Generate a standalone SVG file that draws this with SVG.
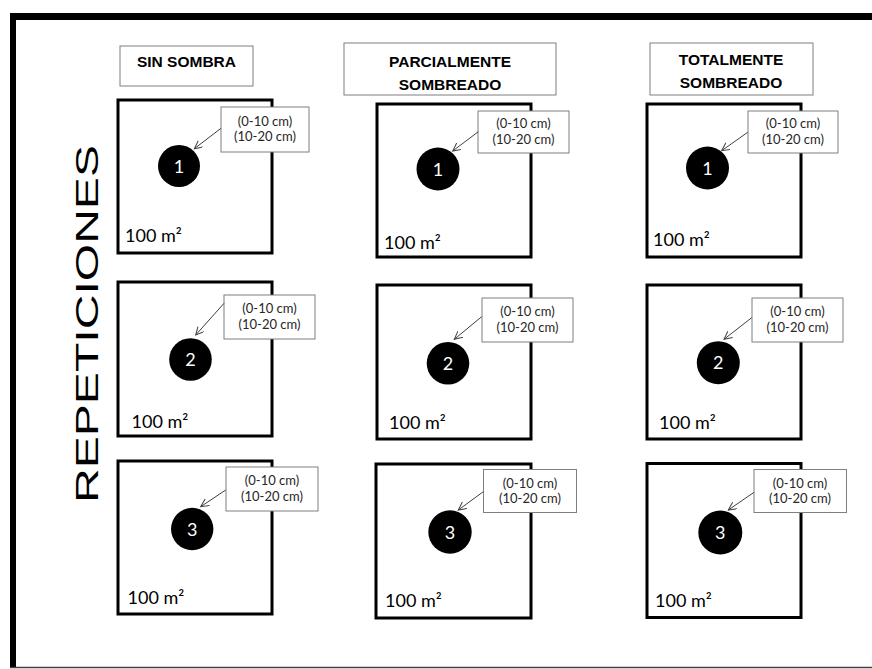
<svg xmlns="http://www.w3.org/2000/svg" width="872" height="669" viewBox="0 0 872 669">
<style>
.hdr{fill:#fff;stroke:#7f7f7f;stroke-width:1}
.hdrt{font-family:"Liberation Sans",Arial,sans-serif;font-weight:bold;font-size:15.5px;fill:#000;text-anchor:middle}
.plot{fill:#fff;stroke:#000;stroke-width:3}
.call{fill:#fff;stroke:#7f7f7f;stroke-width:1}
.callt{font-family:Lato,"Open Sans",sans-serif;font-size:13px;fill:#262626;text-anchor:middle}
.area{font-family:Lato,"Open Sans",sans-serif;font-size:18px;fill:#000}
.pt{fill:#000}
.num{font-family:Lato,"Open Sans",sans-serif;font-size:18px;fill:#fff;text-anchor:middle}
.arr{stroke:#404040;stroke-width:1;fill:none;marker-end:url(#ah)}
</style>
<defs>
<marker id="ah" markerUnits="userSpaceOnUse" markerWidth="10" markerHeight="10" refX="8" refY="4" orient="auto">
<path d="M0,0 L8,4 L0,8" fill="none" stroke="#404040" stroke-width="1"/>
</marker>
</defs>
<rect x="0" y="0" width="872" height="669" fill="#fff"/>
<g id="frame">
<rect x="10" y="13" width="862" height="7" fill="#000"/>
<rect x="10" y="13" width="6" height="655" fill="#000"/>
<line x1="10" y1="667.5" x2="872" y2="667.5" stroke="#404040" stroke-width="1.5"/>
</g>
<g id="title">
<text transform="translate(98,503) rotate(-90)" font-family="Liberation Sans,Arial,sans-serif" font-size="32" textLength="358" lengthAdjust="spacingAndGlyphs" fill="#000">REPETICIONES</text>
</g>
<g id="hdr1"><rect class="hdr" x="120" y="46" width="133" height="40"/><text class="hdrt" x="186.5" y="67">SIN SOMBRA</text></g>
<g id="hdr2"><rect class="hdr" x="344" y="43" width="212" height="52"/><text class="hdrt" x="450" y="67">PARCIALMENTE</text><text class="hdrt" x="450" y="90">SOMBREADO</text></g>
<g id="hdr3"><rect class="hdr" x="650" y="43" width="163" height="52"/><text class="hdrt" x="731" y="65">TOTALMENTE</text><text class="hdrt" x="731" y="88">SOMBREADO</text></g>

<g id="p11"><rect class="plot" x="118" y="100" width="154" height="153"/><circle class="pt" cx="179" cy="166" r="21"/><text class="num" x="179" y="172.5">1</text><text class="area" x="125" y="242">100 m²</text><rect class="call" x="221" y="107" width="88" height="45"/><text class="callt" x="265" y="125.5">(0-10 cm)</text><text class="callt" x="265" y="140.5">(10-20 cm)</text></g>
<g id="p21"><rect class="plot" x="377" y="104" width="154" height="153"/><circle class="pt" cx="438" cy="169" r="21.5"/><text class="num" x="438" y="175.5">1</text><text class="area" x="384" y="249">100 m²</text><rect class="call" x="478" y="111" width="91" height="42"/><text class="callt" x="523.5" y="128">(0-10 cm)</text><text class="callt" x="523.5" y="143.5">(10-20 cm)</text></g>
<g id="p31"><rect class="plot" x="647" y="104" width="154" height="153"/><circle class="pt" cx="707.5" cy="168" r="21.5"/><text class="num" x="707.5" y="174.5">1</text><text class="area" x="653" y="246">100 m²</text><rect class="call" x="748" y="111" width="90" height="42"/><text class="callt" x="793" y="128">(0-10 cm)</text><text class="callt" x="793" y="143.5">(10-20 cm)</text></g>

<g id="p12"><rect class="plot" x="118" y="282" width="154" height="154"/><circle class="pt" cx="190.5" cy="359.5" r="21.3"/><text class="num" x="190.5" y="366">2</text><text class="area" x="131.5" y="428">100 m²</text><rect class="call" x="224" y="295" width="91" height="44"/><text class="callt" x="269.5" y="313">(0-10 cm)</text><text class="callt" x="269.5" y="328.5">(10-20 cm)</text></g>
<g id="p22"><rect class="plot" x="377" y="285" width="154" height="154"/><circle class="pt" cx="448" cy="363.3" r="21.3"/><text class="num" x="448" y="369.8">2</text><text class="area" x="389" y="428.5">100 m²</text><rect class="call" x="482" y="298" width="91" height="44"/><text class="callt" x="527.5" y="316">(0-10 cm)</text><text class="callt" x="527.5" y="331.5">(10-20 cm)</text></g>
<g id="p32"><rect class="plot" x="647" y="285" width="154" height="154"/><circle class="pt" cx="718.3" cy="362.7" r="21.5"/><text class="num" x="718.3" y="369.2">2</text><text class="area" x="659" y="428.5">100 m²</text><rect class="call" x="752" y="298" width="91" height="44"/><text class="callt" x="797.5" y="316">(0-10 cm)</text><text class="callt" x="797.5" y="331.5">(10-20 cm)</text></g>

<g id="p13"><rect class="plot" x="118" y="461" width="154" height="153"/><circle class="pt" cx="192.2" cy="529" r="21.2"/><text class="num" x="192.2" y="535.5">3</text><text class="area" x="127.5" y="603.5">100 m²</text><rect class="call" x="226" y="467" width="92" height="44"/><text class="callt" x="272" y="485">(0-10 cm)</text><text class="callt" x="272" y="500.5">(10-20 cm)</text></g>
<g id="p23"><rect class="plot" x="376" y="464" width="155" height="154"/><circle class="pt" cx="450" cy="532" r="21.7"/><text class="num" x="450" y="538.5">3</text><text class="area" x="385" y="607">100 m²</text><rect class="call" x="483.5" y="469.5" width="93" height="43"/><text class="callt" x="530" y="487.5">(0-10 cm)</text><text class="callt" x="530" y="503">(10-20 cm)</text></g>
<g id="p33"><rect class="plot" x="647" y="463.5" width="154" height="154"/><circle class="pt" cx="720.3" cy="532.5" r="22"/><text class="num" x="720.3" y="539">3</text><text class="area" x="655" y="607">100 m²</text><rect class="call" x="754" y="469.5" width="92.5" height="43"/><text class="callt" x="800" y="487.5">(0-10 cm)</text><text class="callt" x="800" y="503">(10-20 cm)</text></g>

<g id="connectors">
<line class="arr" x1="221" y1="128.3" x2="194.3" y2="148.7"/>
<line class="arr" x1="478.3" y1="131.7" x2="452.7" y2="151"/>
<line class="arr" x1="747.7" y1="132.3" x2="721.7" y2="150.7"/>
<line class="arr" x1="224" y1="303.3" x2="195.7" y2="335"/>
<line class="arr" x1="481.7" y1="316.7" x2="454.3" y2="339.3"/>
<line class="arr" x1="751.7" y1="317.7" x2="724" y2="339.3"/>
<line class="arr" x1="225.7" y1="490" x2="200.7" y2="506.7"/>
<line class="arr" x1="483.3" y1="491.7" x2="458.3" y2="510"/>
<line class="arr" x1="754" y1="492.3" x2="728.3" y2="510"/>
</g>
</svg>
